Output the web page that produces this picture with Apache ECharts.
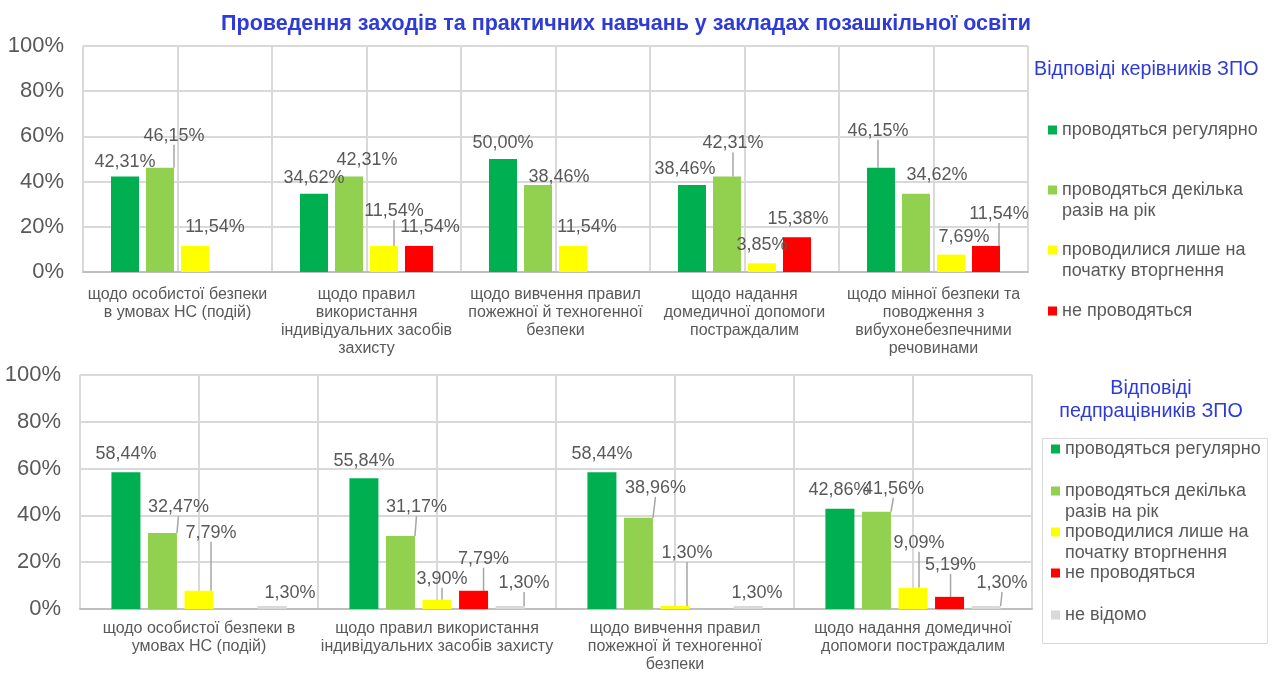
<!DOCTYPE html>
<html>
<head>
<meta charset="utf-8">
<title>Проведення заходів та практичних навчань у закладах позашкільної освіти</title>
<script src="https://cdn.jsdelivr.net/npm/echarts@6/dist/echarts.min.js"></script>
<style>
  html, body { margin: 0; padding: 0; background: #fff; }
  #chart { width: 1273px; height: 673px; }
</style>
</head>
<body>
<div id="chart"></div>
<script>
// категорії (підписи осі X так, як їх перенесено на рисунку)
var topCategories = [
  'щодо особистої безпеки\nв умовах НС (подій)',
  'щодо правил\nвикористання\nіндивідуальних засобів\nзахисту',
  'щодо вивчення правил\nпожежної й техногенної\nбезпеки',
  'щодо надання\nдомедичної допомоги\nпостраждалим',
  'щодо мінної безпеки та\nповодження з\nвибухонебезпечними\nречовинами'
]
var bottomCategories = [
  'щодо особистої безпеки в\nумовах НС (подій)',
  'щодо правил використання\nіндивідуальних засобів захисту',
  'щодо вивчення правил\nпожежної й техногенної\nбезпеки',
  'щодо надання домедичної\nдопомоги постраждалим'
]
var seriesNames = [
  'проводяться регулярно',
  'проводяться декілька разів на рік',
  'проводилися лише на початку вторгнення',
  'не проводяться',
  'не відомо'
]
// як назви розбито в легенді
var legendLabels = [
  'проводяться регулярно',
  'проводяться декілька\nразів на рік',
  'проводилися лише на\nпочатку вторгнення',
  'не проводяться',
  'не відомо'
]
var yTickLabels = ['0%', '20%', '40%', '60%', '80%', '100%']

// відповіді керівників ЗПО, %
var headsRegular = [42.31, 34.62, 50.00, 38.46, 46.15]
var headsSeveral = [46.15, 42.31, 38.46, 42.31, 34.62]
var headsStartOnly = [11.54, 11.54, 11.54, 3.85, 7.69]
var headsNotHeld = [0, 11.54, 0, 15.38, 11.54]

// відповіді педпрацівників ЗПО, %
var staffRegular = [58.44, 55.84, 58.44, 42.86]
var staffSeveral = [32.47, 31.17, 38.96, 41.56]
var staffStartOnly = [7.79, 3.90, 1.30, 9.09]
var staffNotHeld = [0, 7.79, 0, 5.19]
var staffUnknown = [1.30, 1.30, 1.30, 1.30]

var colors = ['#00B050', '#92D050', '#FFFF00', '#FF0000', '#D9D9D9']
var FONT = '"Liberation Sans", Arial, sans-serif'
var GRID_COLOR = '#d9d9d9'
var TEXT_COLOR = '#595959'
var BLUE = '#2E3BD6'

// зсув підписів відносно позиції 'top' [dx, dy, виносна лінія]
var topNudge = [
  [[0, 0, 0], [0, -2, 0], [0, -2, 0], [-7, -2, 0], [-3, -23, 1]],
  [[14, -18, 1], [18, -2, 0], [21, 6, 0], [6, -19, 1], [21, -5, 0]],
  [[20, -5, 0], [10, -21, 1], [14, -5, 0], [0, -4, 0], [13, -4, 0]],
  [[0, 0, 0], [11, -5, 0], [0, 0, 0], [1, -4, 0], [13, -18, 1]]
]
var bottomNudge = [
  [[0, -4, 0], [0, -3, 0], [0, -4, 0], [-1, -5, 0]],
  [[16, -12, 1], [16, -15, 1], [17, -16, 1], [17, -9, 1]],
  [[12, -44, 1], [5, -7, 1], [12, -39, 1], [6, -31, 1]],
  [[0, 0, 0], [10, -18, 1], [0, 0, 0], [1, -18, 1]],
  [[18, 1, 0], [14, -9, 1], [9, 1, 0], [16, -9, 1]]
]

function pct(v) {
  return v ? v.toFixed(2).replace('.', ',') + '%' : ''
}

function barSeries(idx, values, part, nudge) {
  return {
    name: seriesNames[idx],
    type: 'bar',
    xAxisIndex: part === 0 ? 0 : 2,
    yAxisIndex: part,
    barWidth: part === 0 ? 28 : 29,
    barGap: part === 0 ? '25%' : '26%',
    itemStyle: { color: colors[idx] },
    data: values.map(function (v, i) {
      return { value: v, labelLine: { show: nudge[i][2] === 1 } }
    }),
    label: {
      show: true,
      position: 'top',
      distance: 5,
      fontSize: 18,
      fontFamily: FONT,
      color: TEXT_COLOR,
      formatter: function (p) { return pct(p.value) }
    },
    labelLine: { show: false, lineStyle: { color: '#a6a6a6', width: 1.5 } },
    labelLayout: function (p) {
      var n = nudge[p.dataIndex]
      return { dx: n[0], dy: n[1] }
    }
  }
}

// значок легенди стоїть навпроти середнього рядка, тож для двох рядків
// додаємо порожній рядок зверху — значок опиняється біля першого рядка
function legendItem(idx, left, top) {
  var text = legendLabels[idx]
  if (text.indexOf('\n') >= 0) text = '\n' + text
  return {
    data: [seriesNames[idx]],
    left: left,
    top: top,
    orient: 'vertical',
    padding: 0,
    icon: 'rect',
    itemWidth: 9,
    itemHeight: 9,
    itemGap: 0,
    formatter: function () { return text },
    textStyle: {
      fontSize: 18,
      lineHeight: 21,
      fontFamily: FONT,
      color: TEXT_COLOR
    }
  }
}

function categoryAxis(grid, data, margin) {
  return {
    type: 'category',
    gridIndex: grid,
    data: data,
    axisLine: { lineStyle: { color: '#bfbfbf', width: 2 } },
    axisTick: { show: false },
    splitLine: { show: false },
    axisLabel: {
      interval: 0,
      margin: margin,
      fontSize: 16,
      lineHeight: 18,
      fontFamily: FONT,
      color: TEXT_COLOR
    }
  }
}

// допоміжна вісь: вертикальні лінії сітки через кожну половину категорії
function halfAxis(grid, n) {
  var slots = []
  for (var i = 0; i < n * 2; i++) slots.push('')
  return {
    type: 'category',
    gridIndex: grid,
    position: 'bottom',
    data: slots,
    min: 0,
    max: n * 2 - 1,
    axisLine: { show: false },
    axisTick: { show: false },
    axisLabel: { show: false },
    splitLine: { show: true, interval: 0, lineStyle: { color: GRID_COLOR, width: 2 } },
    z: 0
  }
}

function valueAxis(grid) {
  return {
    type: 'value',
    gridIndex: grid,
    min: 0,
    max: 100,
    interval: 20,
    axisLine: { show: false },
    axisTick: { show: false },
    axisLabel: {
      margin: 19,
      fontSize: 22,
      fontFamily: FONT,
      color: TEXT_COLOR,
      formatter: function (v) { return yTickLabels[v / 20] }
    },
    splitLine: { lineStyle: { color: GRID_COLOR, width: 2 } }
  }
}

var chart = echarts.init(document.getElementById('chart'))

chart.setOption({
  animation: false,
  backgroundColor: '#fff',
  title: [
    {
      text: 'Проведення заходів та практичних навчань у закладах позашкільної освіти',
      left: 626,
      top: 13,
      padding: 0,
      textAlign: 'center',
      textStyle: { fontSize: 21.5, fontWeight: 'bold', color: BLUE, fontFamily: FONT }
    },
    {
      text: 'Відповіді керівників ЗПО',
      left: 1034,
      top: 60,
      padding: 0,
      textStyle: { fontSize: 19.7, fontWeight: 'normal', color: BLUE, fontFamily: FONT }
    },
    {
      text: 'Відповіді\nпедпрацівників ЗПО',
      left: 1151,
      top: 377,
      padding: 0,
      textAlign: 'center',
      textStyle: { fontSize: 19.7, lineHeight: 23, fontWeight: 'normal', color: BLUE, fontFamily: FONT }
    }
  ],
  legend: [
    legendItem(0, 1048, 119.5),
    legendItem(1, 1048, 158.5),
    legendItem(2, 1048, 218.5),
    legendItem(3, 1048, 300.5),
    legendItem(0, 1051, 438.5),
    legendItem(1, 1051, 459.5),
    legendItem(2, 1051, 500.5),
    legendItem(3, 1051, 562.5),
    legendItem(4, 1051, 604.5)
  ],
  graphic: [{
    type: 'rect',
    shape: { x: 1042.5, y: 438.5, width: 225, height: 205 },
    style: { fill: 'none', stroke: GRID_COLOR, lineWidth: 1 },
    silent: true
  }],
  grid: [
    { left: 83, top: 46, width: 945, height: 226, outerBoundsMode: 'none' },
    { left: 80, top: 375, width: 952, height: 234, outerBoundsMode: 'none' }
  ],
  xAxis: [
    categoryAxis(0, topCategories, 14),
    halfAxis(0, topCategories.length),
    categoryAxis(1, bottomCategories, 11),
    halfAxis(1, bottomCategories.length)
  ],
  yAxis: [valueAxis(0), valueAxis(1)],
  series: [
    barSeries(0, headsRegular, 0, topNudge[0]),
    barSeries(1, headsSeveral, 0, topNudge[1]),
    barSeries(2, headsStartOnly, 0, topNudge[2]),
    barSeries(3, headsNotHeld, 0, topNudge[3]),
    barSeries(0, staffRegular, 1, bottomNudge[0]),
    barSeries(1, staffSeveral, 1, bottomNudge[1]),
    barSeries(2, staffStartOnly, 1, bottomNudge[2]),
    barSeries(3, staffNotHeld, 1, bottomNudge[3]),
    barSeries(4, staffUnknown, 1, bottomNudge[4])
  ]
})
</script>
</body>
</html>
